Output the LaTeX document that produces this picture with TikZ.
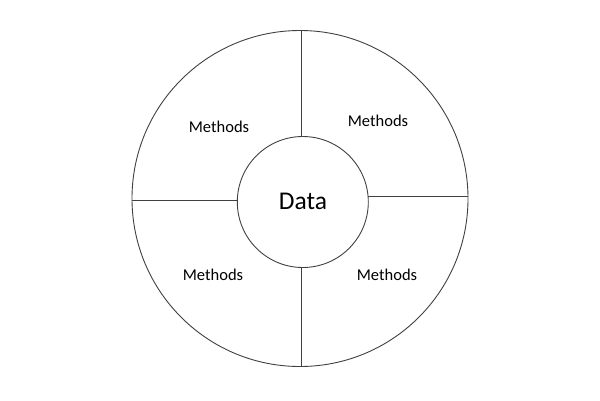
\documentclass[tikz,border=0pt]{standalone}
\usepackage{fontspec}
\setmainfont{Carlito}
\begin{document}
\begin{tikzpicture}[x=1pt,y=-1pt,
  ring/.style={draw=black!75,line width=0.9pt,circle,inner sep=0pt},
  divider/.style={draw=black!75,line width=0.9pt},
  lbl/.style={font=\fontsize{16.5}{18}\selectfont,inner sep=0pt},
  core/.style={font=\fontsize{25.5}{28}\selectfont,inner sep=0pt}]
\useasboundingbox (0,0) rectangle (600,400);
\node[ring,minimum size=336pt] (outer) at (300,198.5) {};
\node[ring,minimum size=131pt] (inner) at (302.8,202) {};
\node[core] (data) at (303,201) {Data};
\node[lbl] (m1) at (219,127) {Methods};
\node[lbl] (m2) at (378,121) {Methods};
\node[lbl] (m3) at (213,275) {Methods};
\node[lbl] (m4) at (387,275) {Methods};
\coordinate (t1) at (301,30.7);
\coordinate (t2) at (301,136.7);
\coordinate (b1) at (301,267.5);
\coordinate (b2) at (301,366.4);
\coordinate (l1) at (132.2,200);
\coordinate (l2) at (237.4,200);
\coordinate (r1) at (368.3,196.7);
\coordinate (r2) at (467.9,196.7);
\draw[divider] (t1) -- (t2);
\draw[divider] (b1) -- (b2);
\draw[divider] (l1) -- (l2);
\draw[divider] (r1) -- (r2);
\end{tikzpicture}
\end{document}
